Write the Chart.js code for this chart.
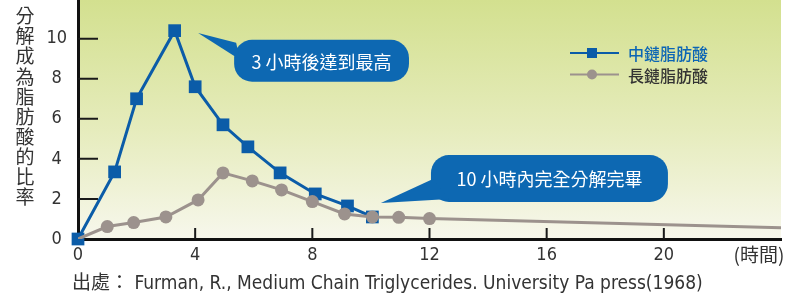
<!DOCTYPE html>
<html lang="zh-Hant">
<head>
<meta charset="UTF-8" />
<title>中鏈脂肪酸與長鏈脂肪酸分解比率</title>
<script src="https://cdn.jsdelivr.net/npm/chart.js@4"></script>
<style>
  body { margin: 0; background: #fff; }
</style>
</head>
<body>
<canvas id="fatChart" width="787" height="296"></canvas>
<script>
  // 中鏈脂肪酸
  const mctHours  = [0, 1.25, 2, 3.3, 4, 4.95, 5.8, 6.9, 8.1, 9.2, 10.05];
  const mctValues = [0, 3.35, 7.0, 10.4, 7.6, 5.7, 4.6, 3.3, 2.25, 1.65, 1.1];
  // 長鏈脂肪酸
  const lctHours  = [0, 1, 1.9, 3, 4.1, 4.95, 5.95, 6.95, 8, 9.1, 10.05, 10.95, 12, 24];
  const lctValues = [0, 0.62, 0.82, 1.1, 1.95, 3.3, 2.9, 2.45, 1.87, 1.25, 1.1, 1.08, 1.02, 0.56];

  const seriesNames = ['中鏈脂肪酸', '長鏈脂肪酸'];
  const xTicks = [0, 4, 8, 12, 16, 20];
  const yTicks = [0, 2, 4, 6, 8, 10];
  const xUnit = '(時間)';
  const yTitle = '分解成為脂肪酸的比率';
  const sourceText = '出處： Furman, R., Medium Chain Triglycerides. University Pa press(1968)';

  // 說明框：文字、框範圍 [x0, x1, y0, y1]、箭頭尖端 [x, y]（資料座標）
  const callouts = [
    { text: '3 小時後達到最高', box: [5.33, 11.3, 7.85, 9.94], tip: [4.1, 10.28] },
    { text: '10 小時內完全分解完畢', box: [12.05, 20.14, 1.85, 4.19], tip: [10.34, 1.8] }
  ];

  const BLUE = '#0b5ca8';
  const GRAY = '#9c928d';
  const BUBBLE = '#0d68b2';
  const CJK = '"Noto Sans CJK TC", "Noto Sans", sans-serif';
  const NARROW = '"Liberation Sans Narrow", "DejaVu Sans Condensed", sans-serif';

  const toPoints = (xs, ys) => xs.map((x, i) => ({ x: x, y: ys[i] }));

  const decor = {
    id: 'decor',
    beforeDraw(chart) {
      const { ctx, chartArea: a } = chart;
      const g = ctx.createLinearGradient(0, a.top, 0, a.bottom);
      g.addColorStop(0, '#d3e08f');
      g.addColorStop(0.55, '#e6ecbd');
      g.addColorStop(1, '#f7f7ec');
      ctx.save();
      ctx.fillStyle = g;
      ctx.fillRect(a.left, a.top, a.right - a.left, a.bottom - a.top);
      ctx.restore();
    },
    beforeDatasetsDraw(chart) {
      // 刻度線向內
      const { ctx, chartArea: a, scales: { x, y } } = chart;
      ctx.save();
      ctx.strokeStyle = '#1a1a1a';
      ctx.lineWidth = 2;
      ctx.beginPath();
      yTicks.forEach(v => {
        if (!v) return;
        const py = y.getPixelForValue(v);
        ctx.moveTo(a.left, py); ctx.lineTo(a.left + 20, py);
      });
      xTicks.forEach(v => {
        if (!v) return;
        const px = x.getPixelForValue(v);
        ctx.moveTo(px, a.bottom); ctx.lineTo(px, a.bottom - 11);
      });
      ctx.stroke();
      ctx.restore();
    },
    afterDraw(chart) {
      const { ctx, chartArea: a, scales: { x, y } } = chart;
      ctx.save();

      // 縱軸標題（直排）
      ctx.fillStyle = '#333';
      ctx.font = '19px ' + CJK;
      ctx.textAlign = 'center';
      ctx.textBaseline = 'middle';
      [...yTitle].forEach((ch, i) => ctx.fillText(ch, 25, 16 + i * 20.1));

      // 橫軸單位
      ctx.font = '19px ' + CJK;
      ctx.fillText(xUnit, 759, 255);

      // 出處
      ctx.textAlign = 'left';
      ctx.font = '19px ' + NARROW + ', ' + CJK;
      ctx.fillText(sourceText, 72, 284);

      // 圖例
      const legend = [
        { label: seriesNames[0], color: BLUE, text: '#0b65b5', y: 53, style: 'rect' },
        { label: seriesNames[1], color: GRAY, text: '#333', y: 74.5, style: 'circle' }
      ];
      legend.forEach(l => {
        ctx.strokeStyle = l.color;
        ctx.fillStyle = l.color;
        ctx.lineWidth = 2;
        ctx.beginPath(); ctx.moveTo(570, l.y); ctx.lineTo(619, l.y); ctx.stroke();
        ctx.beginPath();
        if (l.style === 'rect') ctx.rect(587, l.y - 5, 10, 10);
        else ctx.arc(592, l.y, 5, 0, Math.PI * 2);
        ctx.fill();
        ctx.fillStyle = l.text;
        ctx.font = '500 16px ' + CJK;
        ctx.textAlign = 'left';
        ctx.fillText(l.label, 628, l.y + 1);
      });

      // 說明框
      callouts.forEach((c, idx) => {
        const x0 = x.getPixelForValue(c.box[0]);
        const x1 = x.getPixelForValue(c.box[1]);
        const y0 = y.getPixelForValue(c.box[3]);
        const y1 = y.getPixelForValue(c.box[2]);
        const tx = x.getPixelForValue(c.tip[0]);
        const ty = y.getPixelForValue(c.tip[1]);
        ctx.fillStyle = BUBBLE;
        ctx.beginPath();
        ctx.roundRect(x0, y0, x1 - x0, y1 - y0, 18);
        ctx.fill();
        ctx.beginPath();
        ctx.moveTo(tx, ty);
        if (idx === 0) {
          ctx.lineTo(x0 + 2, y0 + 3);
          ctx.lineTo(x0 + 6, y0 + 20);
        } else {
          ctx.lineTo(x0 + 2, y0 + 24);
          ctx.lineTo(x0 + 18, y1 - 3);
        }
        ctx.closePath();
        ctx.fill();
        ctx.fillStyle = '#fff';
        ctx.font = '18px ' + CJK;
        ctx.textAlign = 'center';
        ctx.fillText(c.text, (x0 + x1) / 2, (y0 + y1) / 2 + 1);
      });

      ctx.restore();
    }
  };

  new Chart(document.getElementById('fatChart'), {
    type: 'line',
    data: {
      datasets: [
        {
          label: seriesNames[1],
          data: toPoints(lctHours, lctValues),
          borderColor: GRAY,
          backgroundColor: GRAY,
          borderWidth: 3,
          pointStyle: 'circle',
          pointRadius: lctHours.map((h, i) => (i === 0 || i === lctHours.length - 1) ? 0 : 6.5),
          pointBorderWidth: 0,
          tension: 0
        },
        {
          label: seriesNames[0],
          data: toPoints(mctHours, mctValues),
          borderColor: BLUE,
          backgroundColor: BLUE,
          borderWidth: 3,
          pointStyle: 'rect',
          pointRadius: 9,
          pointBorderWidth: 0,
          tension: 0,
          clip: false
        }
      ]
    },
    options: {
      responsive: false,
      animation: false,
      layout: { autoPadding: false, padding: { left: 0, right: 6, top: 0, bottom: 0 } },
      plugins: { legend: { display: false }, tooltip: { enabled: false } },
      scales: {
        x: {
          type: 'linear',
          min: 0,
          max: 24,
          grid: { display: false, drawTicks: false },
          border: { color: '#111', width: 3 },
          afterBuildTicks: s => { s.ticks = xTicks.map(v => ({ value: v })); },
          afterFit: s => { s.height = 57; s.paddingLeft = 0; s.paddingRight = 0; },
          ticks: { color: '#333', padding: 6, font: { family: NARROW, size: 18 } }
        },
        y: {
          min: 0,
          max: 11.93,
          grid: { display: false, drawTicks: false },
          border: { color: '#111', width: 3 },
          afterBuildTicks: s => { s.ticks = yTicks.map(v => ({ value: v })); },
          afterFit: s => { s.width = 78; s.paddingTop = 0; s.paddingBottom = 0; },
          ticks: { color: '#333', padding: 11, crossAlign: 'center', font: { family: NARROW, size: 18, lineHeight: 0.1 } }
        }
      }
    },
    plugins: [decor]
  });
</script>
</body>
</html>
